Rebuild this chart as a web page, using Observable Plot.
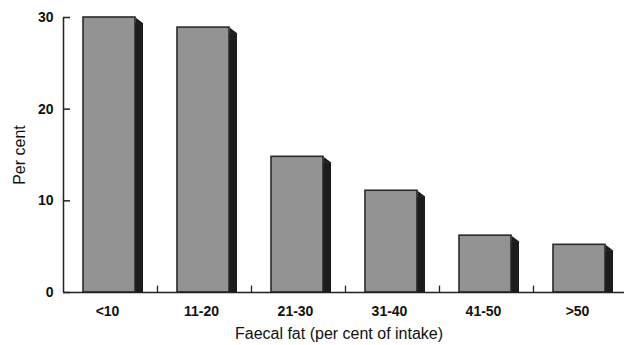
<!DOCTYPE html>
<html>
<head>
<meta charset="utf-8">
<script src="https://cdn.jsdelivr.net/npm/d3@7"></script>
<script src="https://cdn.jsdelivr.net/npm/@observablehq/plot@0.6"></script>
<style>
  html, body { margin: 0; padding: 0; background: #fff; }
  #chart svg { display: block; }
</style>
</head>
<body>
<div id="chart"></div>
<script>
const categories = ["<10", "11-20", "21-30", "31-40", "41-50", ">50"];
const values = [30, 28.9, 14.8, 11.1, 6.2, 5.2];
const yTicks = [0, 10, 20, 30];
const yLabel = "Per cent";
const xLabel = "Faecal fat (per cent of intake)";

const data = categories.map((c, i) => ({ cat: c, value: values[i] }));
const firstCat = () => categories[0];

// bevel triangle at the top-right corner of each bar
const bevel = {
  draw(context) {
    context.moveTo(0, 0);
    context.lineTo(8, 6);
    context.lineTo(0, 6);
    context.closePath();
  }
};

const plot = Plot.plot({
  width: 624,
  height: 345,
  marginTop: 17,
  marginBottom: 53,
  marginLeft: 63,
  marginRight: 0,
  style: { fontFamily: "Liberation Sans, Arial, sans-serif", background: "#fff" },
  x: { domain: categories, range: [63, 627], padding: 0, axis: null },
  y: { domain: [0, 30], axis: null },
  marks: [
    // shadow side
    Plot.barY(data, { x: "cat", y: "value", fill: "#1c1c1c", insetLeft: 72, insetRight: 14, insetTop: 6 }),
    Plot.dot(data, { x: "cat", y: "value", dx: 25, symbol: bevel, fill: "#1c1c1c", stroke: "none" }),
    // front face
    Plot.barY(data, { x: "cat", y: "value", fill: "#939393", stroke: "#2a2a2a", strokeWidth: 1.6, insetLeft: 20, insetRight: 22 }),
    // y axis line
    Plot.ruleX([categories[0]], { dx: -47, y1: 0, y2: 30, stroke: "#222", strokeWidth: 1.5 }),
    // y ticks (pointing inward): only the first 7px of the band-wide tick are drawn
    Plot.tickY(yTicks, { y: d => d, x: firstCat, stroke: "#222", strokeWidth: 1.5, strokeDasharray: "7 400" }),
    Plot.text(yTicks, { y: d => d, x: firstCat, dx: -57, text: d => String(d), textAnchor: "end", fontSize: 14, fontWeight: "bold", fill: "#111" }),
    // baseline
    Plot.ruleY([0], { stroke: "#222", strokeWidth: 1.5 }),
    // category boundary ticks
    Plot.ruleX(categories.slice(1), { x: d => d, dx: -47, y1: 0, y2: 0.7, stroke: "#222", strokeWidth: 1.3 }),
    // x tick labels
    Plot.text(categories, { x: d => d, y: () => 0, dx: -3, dy: 19, text: d => d, fontSize: 14, fontWeight: "bold", fill: "#111" }),
    // axis titles
    Plot.text([xLabel], { frameAnchor: "bottom", textAnchor: "middle", dy: 46, dx: -5, text: d => d, fontSize: 16, fill: "#111" }),
    Plot.text([yLabel], { frameAnchor: "left", textAnchor: "middle", dx: -44, dy: 0, rotate: -90, text: d => d, fontSize: 16, fill: "#111" })
  ]
});
document.getElementById("chart").appendChild(plot);
</script>
</body>
</html>
